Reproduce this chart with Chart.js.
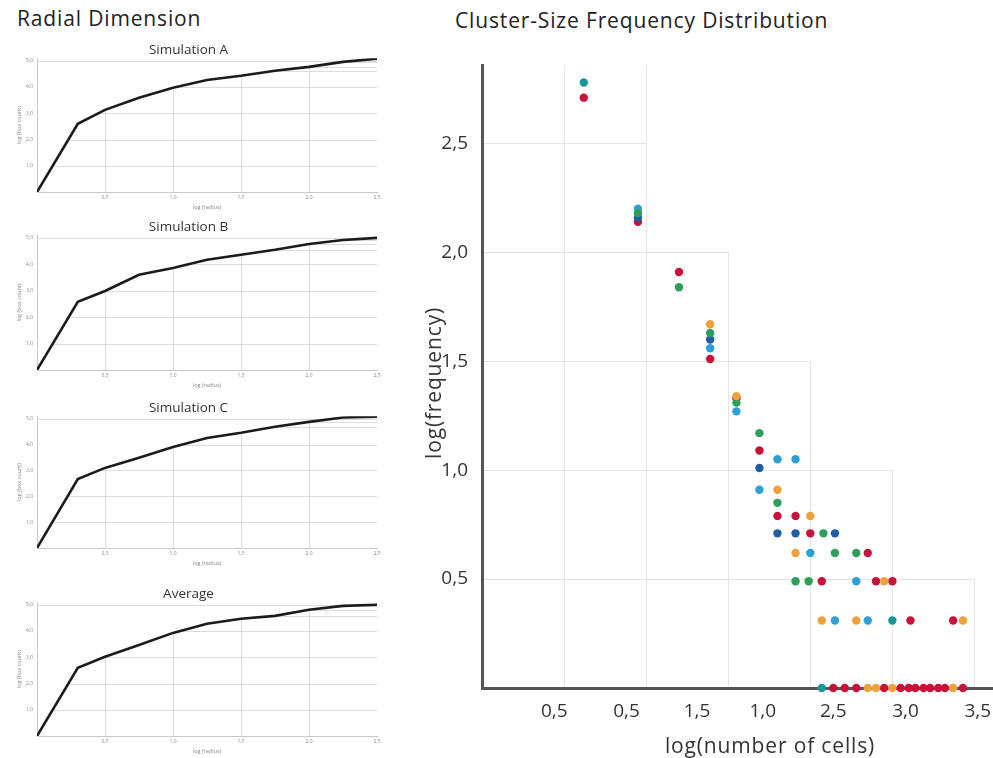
<!DOCTYPE html>
<html>
<head>
<meta charset="utf-8">
<script src="https://cdn.jsdelivr.net/npm/chart.js@4.4.1/dist/chart.umd.min.js"></script>
<style>
body { margin: 0; background: #fff; }
#page { position: relative; width: 993px; height: 758px; overflow: hidden; font-family: "Open Sans", sans-serif; color: #222; }
.head { position: absolute; font-size: 21px; letter-spacing: 0.85px; line-height: 21px; white-space: nowrap; }
.axt { position: absolute; font-size: 21px; letter-spacing: 0.85px; line-height: 24px; white-space: nowrap; color: #333; }
.box { position: absolute; }
</style>
</head>
<body>
<div id="page">
  <div class="head" style="left:17px; top:8px;">Radial Dimension</div>
  <div class="head" style="left:455px; top:10px;">Cluster-Size Frequency Distribution</div>

  <div class="box" style="left:0; top:42px; width:420px; height:172px;"><canvas id="simA"></canvas></div>
  <div class="box" style="left:0; top:219px; width:420px; height:173px;"><canvas id="simB"></canvas></div>
  <div class="box" style="left:0; top:400px; width:420px; height:170px;"><canvas id="simC"></canvas></div>
  <div class="box" style="left:0; top:586px; width:420px; height:172px;"><canvas id="simAvg"></canvas></div>

  <div class="box" style="left:400px; top:40px; width:600px; height:718px;"><canvas id="freq"></canvas></div>
  <div class="axt" style="left:770px; top:733px; transform:translateX(-50%);">log(number of cells)</div>
  <div class="axt" style="left:433px; top:383px; transform:translate(-50%,-50%) rotate(-90deg);">log(frequency)</div>
</div>

<script>
// radial dimension curves (same x for every panel)
var radiusX = [0, 0.3, 0.5, 0.75, 1.0, 1.25, 1.5, 1.75, 2.0, 2.25, 2.5];
var simA = [0, 2.60, 3.13, 3.59, 3.97, 4.27, 4.43, 4.62, 4.77, 4.96, 5.08];
var simB = [0, 2.58, 2.99, 3.60, 3.86, 4.17, 4.36, 4.55, 4.77, 4.92, 5.00];
var simC = [0, 2.67, 3.10, 3.49, 3.91, 4.26, 4.46, 4.69, 4.88, 5.05, 5.08];
var simAvg = [0, 2.60, 3.02, 3.47, 3.93, 4.28, 4.47, 4.58, 4.81, 4.96, 5.00];
var radialYTicks = [1, 2, 3, 4, 5];

// cluster-size frequency points [log(cells), log(frequency)]
var tealPts = [[0.62,2.78],[2.50,0.31],[2.07,0]];
var redPts = [[0.62,2.71],[0.95,2.14],[1.20,1.91],[1.39,1.51],[1.55,1.33],[1.69,1.09],[1.80,0.79],[1.91,0.79],
  [2.00,0.71],[2.35,0.62],[2.07,0.49],[2.40,0.49],[2.50,0.49],[2.61,0.31],[2.87,0.31],
  [2.14,0],[2.21,0],[2.28,0],[2.45,0],[2.55,0],[2.60,0],[2.64,0],[2.69,0],[2.73,0],[2.78,0],[2.82,0],[2.93,0]];
var orangePts = [[1.39,1.67],[1.55,1.34],[1.80,0.91],[2.00,0.79],[1.91,0.62],[2.45,0.49],[2.07,0.31],[2.28,0.31],
  [2.93,0.31],[2.35,0],[2.40,0],[2.50,0],[2.87,0]];
var greenPts = [[0.95,2.18],[1.20,1.84],[1.39,1.63],[1.55,1.31],[1.69,1.17],[1.80,0.85],[2.08,0.71],[2.15,0.62],
  [2.28,0.62],[1.91,0.49],[1.99,0.49]];
var lightBluePts = [[0.95,2.20],[1.39,1.56],[1.55,1.27],[1.69,0.91],[1.80,1.05],[1.91,1.05],[2.00,0.62],[2.28,0.49],
  [2.15,0.31],[2.35,0.31]];
var darkBluePts = [[0.95,2.16],[1.39,1.60],[1.69,1.01],[1.80,0.71],[1.91,0.71],[2.15,0.71]];

var freqYTicks = [0.5, 1.0, 1.5, 2.0, 2.5];
var freqXTicks = [0.44, 0.88, 1.31, 1.71, 2.14, 2.58, 3.02];
var freqXLabels = ["0,5", "0,5", "1,5", "1,0", "2,5", "3,0", "3,5"];

// staircase grid: horizontal line at stairY[i] runs out to stairX[i]
var stairY = [0.5, 1.0, 1.5, 2.0, 2.5];
var stairX = [3.0, 2.5, 2.0, 1.5, 1.0];

Chart.defaults.font.family = "'Open Sans', sans-serif";
Chart.defaults.animation = false;

function comma(v) { return v.toFixed(1).replace('.', ','); }

// grid only below the curve, plus the top frame line
var underGrid = {
  id: 'underGrid',
  beforeDatasetsDraw: function(chart) {
    var ctx = chart.ctx, a = chart.chartArea, x = chart.scales.x, y = chart.scales.y;
    var pts = chart.getDatasetMeta(0).data;
    ctx.save();
    ctx.strokeStyle = '#dcdcdc';
    ctx.lineWidth = 1;
    var topY = Math.round(y.getPixelForValue(radialYTicks[radialYTicks.length - 1])) + 0.5;
    ctx.beginPath();
    ctx.moveTo(a.left, topY); ctx.lineTo(a.right, topY);
    ctx.stroke();
    ctx.beginPath();
    ctx.moveTo(pts[0].x, a.bottom);
    pts.forEach(function(p) { ctx.lineTo(p.x, p.y); });
    ctx.lineTo(pts[pts.length - 1].x, a.bottom);
    ctx.closePath();
    ctx.clip();
    ctx.beginPath();
    x.ticks.forEach(function(t) {
      var px = Math.round(x.getPixelForValue(t.value)) + 0.5;
      ctx.moveTo(px, a.top); ctx.lineTo(px, a.bottom);
    });
    y.ticks.forEach(function(t) {
      var py = Math.round(y.getPixelForValue(t.value)) + 0.5;
      ctx.moveTo(a.left, py); ctx.lineTo(a.right, py);
    });
    pts.slice(-4).forEach(function(p) {
      var py = Math.round(p.y) + 0.5;
      ctx.moveTo(a.left, py); ctx.lineTo(a.right, py);
    });
    ctx.stroke();
    ctx.restore();
  }
};

function radialChart(id, title, vals) {
  new Chart(document.getElementById(id), {
    type: 'line',
    data: {
      datasets: [{
        data: radiusX.map(function(x, i) { return {x: x, y: vals[i]}; }),
        borderColor: '#1b1b1b',
        borderWidth: 2.6,
        pointRadius: 0,
        tension: 0,
        fill: false
      }]
    },
    options: {
      responsive: true,
      maintainAspectRatio: false,
      layout: {padding: {left: 0, right: 43, top: 0, bottom: 0}},
      plugins: {
        legend: {display: false},
        tooltip: {enabled: false},
        title: {display: true, text: title, color: '#333', font: {size: 13.5, weight: 'normal'}, padding: {top: 0, bottom: 0}}
      },
      scales: {
        x: {
          type: 'linear', min: 0, max: 2.5,
          ticks: {stepSize: 0.5, maxRotation: 0, padding: 3, color: '#888', font: {size: 5},
            callback: function(v) { return v === 0 ? '' : comma(v); }},
          grid: {color: 'rgba(0,0,0,0)', drawTicks: false},
          border: {color: '#c8c8c8', width: 1},
          title: {display: true, text: 'log (radius)', color: '#888', font: {size: 5.5}, padding: {top: 0, bottom: 3}},
          afterFit: function(s) { s.height = 22; s.paddingLeft = 0; s.paddingRight = 0; }
        },
        y: {
          min: 0, max: 5.1,
          afterBuildTicks: function(s) { s.ticks = radialYTicks.map(function(v) { return {value: v}; }); },
          ticks: {padding: 4, color: '#888', font: {size: 5}, callback: function(v) { return comma(v); }},
          grid: {color: 'rgba(0,0,0,0)', drawTicks: false},
          border: {color: '#c8c8c8', width: 1},
          title: {display: true, text: 'log (box count)', color: '#888', font: {size: 5.5}, padding: {top: 16, bottom: 0}},
          afterFit: function(s) { s.width = 37; }
        }
      }
    },
    plugins: [underGrid]
  });
}

radialChart('simA', 'Simulation A', simA);
radialChart('simB', 'Simulation B', simB);
radialChart('simC', 'Simulation C', simC);
radialChart('simAvg', 'Average', simAvg);

var stairGrid = {
  id: 'stairGrid',
  beforeDatasetsDraw: function(chart) {
    var ctx = chart.ctx, x = chart.scales.x, y = chart.scales.y;
    ctx.save();
    ctx.strokeStyle = '#e4e4e4';
    ctx.lineWidth = 1;
    ctx.beginPath();
    stairY.forEach(function(v, i) {
      var py = Math.round(y.getPixelForValue(v)) + 0.5;
      var px = Math.round(x.getPixelForValue(stairX[i])) + 0.5;
      ctx.moveTo(x.left + 2, py); ctx.lineTo(px, py);
      var topV = i === stairY.length - 1 ? y.max : v;
      ctx.moveTo(px, y.bottom - 2); ctx.lineTo(px, y.getPixelForValue(topV));
    });
    var p05 = Math.round(x.getPixelForValue(0.5)) + 0.5;
    ctx.moveTo(p05, y.bottom - 2); ctx.lineTo(p05, y.top);
    ctx.stroke();
    ctx.restore();
  }
};

function dots(label, pts, color) {
  return {
    label: label,
    data: pts.map(function(p) { return {x: p[0], y: p[1]}; }),
    backgroundColor: color,
    borderWidth: 0,
    pointRadius: 4.2,
    clip: false
  };
}

new Chart(document.getElementById('freq'), {
  type: 'scatter',
  data: {
    datasets: [
      dots('orange', orangePts, '#eea23c'),
      dots('green', greenPts, '#2f9e5c'),
      dots('light blue', lightBluePts, '#2c9fd6'),
      dots('dark blue', darkBluePts, '#1e5ea6'),
      dots('teal', tealPts, '#1a9598'),
      dots('red', redPts, '#c8123a')
    ]
  },
  options: {
    responsive: true,
    maintainAspectRatio: false,
    layout: {padding: {left: 0, right: 0, top: 25, bottom: 0}},
    plugins: {legend: {display: false}, tooltip: {enabled: false}},
    scales: {
      x: {
        type: 'linear', min: 0, max: 3.13,
        afterBuildTicks: function(s) { s.ticks = freqXTicks.map(function(v) { return {value: v}; }); },
        ticks: {autoSkip: false, maxRotation: 0, padding: 12, color: '#333', font: {size: 19},
          callback: function(v, i) { return freqXLabels[i]; }},
        grid: {color: 'rgba(0,0,0,0)', drawTicks: false},
        border: {color: '#555', width: 3},
        afterFit: function(s) { s.height = 70; s.paddingLeft = 0; s.paddingRight = 0; }
      },
      y: {
        min: 0, max: 2.86,
        afterBuildTicks: function(s) { s.ticks = freqYTicks.map(function(v) { return {value: v}; }); },
        ticks: {padding: 14, color: '#333', font: {size: 19}, callback: function(v) { return comma(v); }},
        grid: {color: 'rgba(0,0,0,0)', drawTicks: false},
        border: {color: '#555', width: 3},
        afterFit: function(s) { s.width = 82; s.paddingTop = 0; s.paddingBottom = 0; }
      }
    }
  },
  plugins: [stairGrid]
});
</script>
</body>
</html>
